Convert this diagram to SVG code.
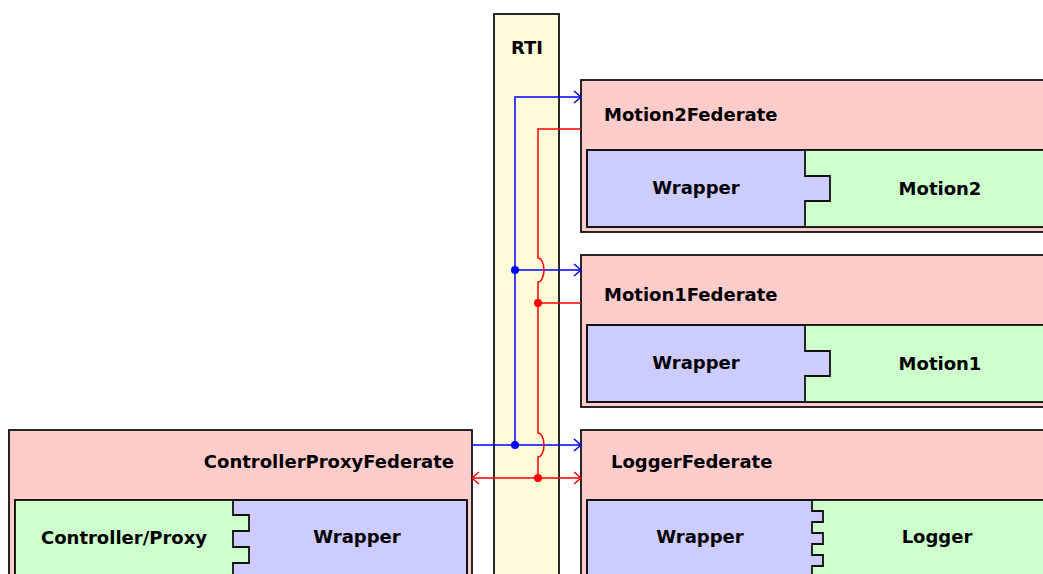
<svg xmlns="http://www.w3.org/2000/svg" width="1043" height="574" viewBox="0 0 1043 574">
  <style>
    .fed { fill: #ffcccc; stroke: #111; stroke-width: 1.8; }
    .wrap { fill: #ccccff; stroke: #111; stroke-width: 1.8; }
    .comp { fill: #ccffcc; stroke: none; }
    .edge { fill: none; stroke: #111; stroke-width: 1.8; }
    .rti { fill: #fffad7; stroke: #111; stroke-width: 1.8; }
    text { font-family: "DejaVu Sans", "Liberation Sans", sans-serif; font-weight: bold; font-size: 18px; fill: #000; }
    .mid { text-anchor: middle; }
    .blue { fill: none; stroke: #0000ff; stroke-width: 1.5; }
    .red { fill: none; stroke: #ff0000; stroke-width: 1.5; }
  </style>
  <defs>
    <marker id="arrowBlue" markerUnits="userSpaceOnUse" markerWidth="10" markerHeight="14" refX="7" refY="6" orient="auto-start-reverse" overflow="visible">
      <path d="M0,0 L7,6 L0,12" fill="none" stroke="#0000ff" stroke-width="1.5"/>
    </marker>
    <marker id="arrowRed" markerUnits="userSpaceOnUse" markerWidth="10" markerHeight="14" refX="7" refY="6" orient="auto-start-reverse" overflow="visible">
      <path d="M0,0 L7,6 L0,12" fill="none" stroke="#ff0000" stroke-width="1.5"/>
    </marker>
  </defs>

  <rect width="1043" height="574" fill="#ffffff"/>

  <!-- RTI bus -->
  <g id="rti">
    <rect class="rti" x="494" y="14" width="65" height="580"/>
    <text class="mid" x="527" y="54" font-size="19">RTI</text>
  </g>

  <!-- Motion2 federate -->
  <g id="motion2Federate">
    <rect class="fed" x="581" y="80" width="480" height="152"/>
    <text x="604" y="121">Motion2Federate</text>
    <rect class="wrap" x="587" y="150" width="474" height="77"/>
    <path class="comp" d="M805,150 H1061 V227 H805 V201 H830 V176 H805 Z"/>
    <rect class="edge" x="587" y="150" width="474" height="77"/>
    <path class="edge" d="M805,150 V176 H830 V201 H805 V227"/>
    <text class="mid" x="696" y="194">Wrapper</text>
    <text class="mid" x="940" y="195">Motion2</text>
  </g>

  <!-- Motion1 federate -->
  <g id="motion1Federate">
    <rect class="fed" x="581" y="255" width="480" height="152"/>
    <text x="604" y="301">Motion1Federate</text>
    <rect class="wrap" x="587" y="325" width="474" height="77"/>
    <path class="comp" d="M805,325 H1061 V402 H805 V376 H830 V351 H805 Z"/>
    <rect class="edge" x="587" y="325" width="474" height="77"/>
    <path class="edge" d="M805,325 V351 H830 V376 H805 V402"/>
    <text class="mid" x="696" y="369">Wrapper</text>
    <text class="mid" x="940" y="370">Motion1</text>
  </g>

  <!-- Logger federate -->
  <g id="loggerFederate">
    <rect class="fed" x="581" y="430" width="480" height="160"/>
    <text x="611" y="468">LoggerFederate</text>
    <rect class="wrap" x="587" y="500" width="474" height="90"/>
    <path class="comp" d="M812,500 H1061 V590 H812 V566 H823 V555 H812 V544 H823 V533 H812 V522 H823 V511 H812 Z"/>
    <rect class="edge" x="587" y="500" width="474" height="90"/>
    <path class="edge" d="M812,500 V511 H823 V522 H812 V533 H823 V544 H812 V555 H823 V566 H812 V590"/>
    <text class="mid" x="700" y="543">Wrapper</text>
    <text class="mid" x="937" y="543">Logger</text>
  </g>

  <!-- Controller proxy federate -->
  <g id="controllerProxyFederate">
    <rect class="fed" x="9" y="430" width="463" height="160"/>
    <text x="454" y="468" text-anchor="end">ControllerProxyFederate</text>
    <rect class="wrap" x="15" y="500" width="452" height="90"/>
    <path class="comp" d="M15,500 H233 V515 H249 V531 H233 V547 H249 V563 H233 V590 H15 Z"/>
    <rect class="edge" x="15" y="500" width="452" height="90"/>
    <path class="edge" d="M233,500 V515 H249 V531 H233 V547 H249 V563 H233 V590"/>
    <text class="mid" x="124" y="544">Controller/Proxy</text>
    <text class="mid" x="357" y="543">Wrapper</text>
  </g>

  <!-- Connectors through the RTI -->
  <g id="connectors">
    <!-- blue: controller output fanned out to all federates -->
    <path class="blue" d="M472,445 H515 V97 H581" marker-end="url(#arrowBlue)"/>
    <path class="blue" d="M515,270 H581" marker-end="url(#arrowBlue)"/>
    <path class="blue" d="M515,445 H581" marker-end="url(#arrowBlue)"/>
    <circle cx="515" cy="270" r="4" fill="#0000ff"/>
    <circle cx="515" cy="445" r="4" fill="#0000ff"/>
    <!-- red: motion feedback back to controller and logger, hopping over blue -->
    <path class="red" d="M581,129 H538 V258 A6,12 0 0 1 538,282 V433 A6,12 0 0 1 538,457 V478"/>
    <path class="red" d="M538,303 H581"/>
    <path class="red" d="M472,478 H581" marker-start="url(#arrowRed)" marker-end="url(#arrowRed)"/>
    <circle cx="538" cy="303" r="4" fill="#ff0000"/>
    <circle cx="538" cy="478" r="4" fill="#ff0000"/>
  </g>
</svg>
